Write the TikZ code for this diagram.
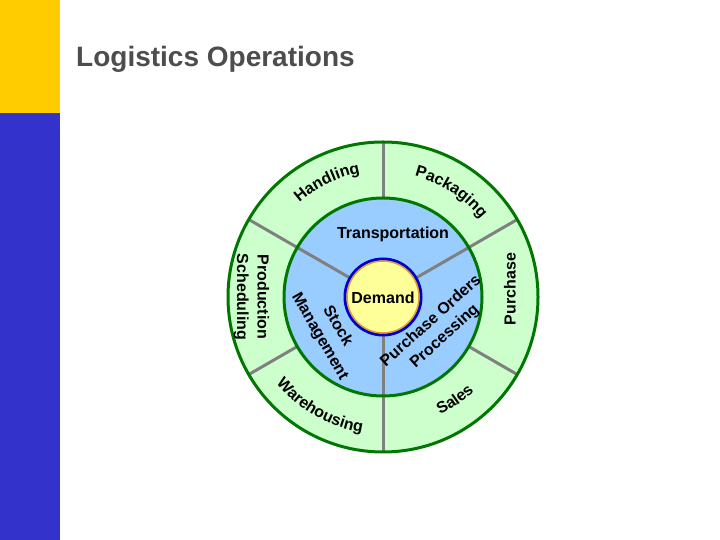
\documentclass[tikz,border=0pt]{standalone}
\usepackage{fontspec}
\setmainfont{Liberation Sans}
\usetikzlibrary{decorations.text}
\definecolor{ringgreen}{HTML}{CCFFCC}
\definecolor{ringblue}{HTML}{99CCFF}
\definecolor{darkgreen}{HTML}{007700}
\definecolor{divgray}{HTML}{808080}
\definecolor{demandfill}{HTML}{FFFF99}
\definecolor{demandblue}{HTML}{0000CC}
\definecolor{demandorange}{HTML}{E09A3A}
\definecolor{baryellow}{HTML}{FFCC00}
\definecolor{barblue}{HTML}{3333CC}
\definecolor{titlegray}{HTML}{4D4D4D}
\begin{document}
\begin{tikzpicture}[x=1pt,y=1pt,
  lbl/.style={font=\fontsize{16}{20.5}\selectfont\bfseries, align=center, inner sep=0pt},
  divider/.style={draw=divgray, line width=3pt},
  ring/.style={draw=darkgreen, line width=3pt},
  arctext/.style={decorate, decoration={text along path, text align=center, text={|\fontsize{16}{19}\selectfont\bfseries|#1}}}
]
\useasboundingbox (0,0) rectangle (720,540);
\fill[white] (0,0) rectangle (720,540);
\fill[baryellow] (0,427) rectangle (60,540);
\fill[barblue] (0,0) rectangle (60,427);
\node[anchor=base west, inner sep=0pt, text=titlegray, font=\fontsize{28}{32}\selectfont\bfseries] (title) at (76,473) {Logistics Operations};
\coordinate (c) at (383,243);
\fill[ringgreen] (c) circle (155);
\fill[ringblue] (c) circle (99);
\foreach \a in {90,210,330} \draw[divider] ([shift={(\a:99)}]c) -- ([shift={(\a:155)}]c);
\foreach \a in {30,150,270} \draw[divider] ([shift={(\a:39)}]c) -- ([shift={(\a:155)}]c);
\draw[ring] (c) circle (155);
\draw[ring] (c) circle (99);
\node[circle, minimum size=76pt, fill=demandfill, draw=demandblue, line width=3pt, inner sep=0pt] (demand) at (c) {};
\draw[demandorange, line width=1.5pt] (c) circle (36);
\node[lbl] (demandtext) at (383,242.5) {Demand};
\node[lbl] (transport) at (393,306) {Transportation};
\node[lbl, rotate=-90] (prod) at (251.5,243) {Production\\Scheduling};
\node[lbl, rotate=90] (purch) at (510,251) {Purchase};
\node[lbl, rotate=-60] (stock) at (328.5,208.5) {Stock\\Management};
\node[lbl, rotate=42] (pop) at (438,211) {Purchase Orders\\Processing};
\path[arctext=Handling] ([shift={(156:126)}]c) arc[start angle=156, end angle=76, radius=126];
\path[arctext=Packaging] ([shift={(97:125)}]c) arc[start angle=97, end angle=17, radius=125];
\path[arctext=Warehousing] ([shift={(195:137)}]c) arc[start angle=195, end angle=285, radius=137];
\path[arctext=Sales] ([shift={(275:131)}]c) arc[start angle=275, end angle=335, radius=131];
\end{tikzpicture}
\end{document}
